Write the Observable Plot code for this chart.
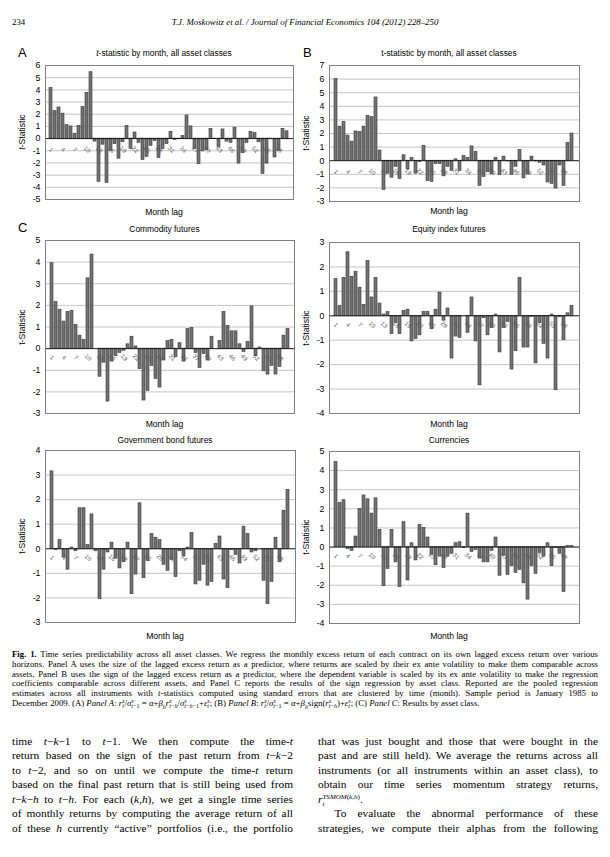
<!DOCTYPE html>
<html><head><meta charset="utf-8">
<script src="https://cdn.jsdelivr.net/npm/d3@7"></script>
<script src="https://cdn.jsdelivr.net/npm/@observablehq/plot@0.6"></script>
<style>
html,body{margin:0;padding:0;background:#fff;}
body{width:610px;height:857px;position:relative;overflow:hidden;font-family:"Liberation Sans",Arial,sans-serif;color:#000;}
.abs{position:absolute;white-space:nowrap;}
.c{transform:translate(-50%,-50%);}
.serif{font-family:"Liberation Serif","Times New Roman",serif;}
.cap{position:absolute;left:12px;width:586px;font-family:"Liberation Serif",serif;font-size:8.75px;line-height:9.7px;text-align:justify;text-align-last:justify;white-space:nowrap;}
.body{position:absolute;font-family:"Liberation Serif",serif;font-size:11.4px;line-height:14.5px;text-align:justify;text-align-last:justify;white-space:nowrap;}
.ss{display:inline-block;vertical-align:middle;line-height:0.8em;font-size:0.7em;text-align:left;}
.ss span{display:block;}
svg{overflow:visible;}
</style></head><body>
<script>
// ---- data ----
const lags = [1,2,3,4,5,6,7,8,9,10,11,12,13,14,15,16,17,18,19,20,21,22,23,24,25,26,27,28,29,30,
              31,32,33,34,35,36,37,38,39,40,41,42,43,44,45,46,47,48,49,50,51,52,53,54,55,56,57,58,59,60];
const tickLags = [1,4,7,10,13,16,19,22,25,28,31,34,37,40,43,46,49,52,55,58];

const panelA = [4.15,2.25,2.55,2.05,1.1,1.0,0.4,1.05,2.6,3.75,
                5.45,-0.25,-3.55,-0.5,-3.65,-1.0,-0.45,-1.65,-0.3,1.05,
                -0.85,0.5,-0.35,-1.75,-1.5,-0.6,-0.2,-1.6,-0.85,-0.45,
                0.55,-0.1,-0.05,0.2,1.9,1.0,-0.85,-2.1,-1.05,-0.95,
                0.8,-0.05,-0.7,0.75,-0.25,-0.35,0.9,-2.05,-1.2,-0.35,
                0.55,0.45,-0.3,-2.9,-2.05,-0.05,-1.55,-1.0,0.8,0.6];
const panelB = [6.0,2.5,2.85,1.85,1.4,2.15,2.1,2.5,3.3,3.2,
                4.65,0.75,-2.15,-0.95,-1.25,-0.45,-1.35,0.4,-0.65,0.2,
                -0.95,-0.1,1.1,-1.5,-1.55,-0.25,-0.25,-1.15,-0.45,-0.75,
                0.1,-0.75,0.35,0.2,1.05,0.65,-1.85,-1.2,-0.85,-1.0,
                0.2,-1.05,0.3,-0.05,-1.05,-0.45,0.8,-1.3,-1.0,0.3,
                -0.05,-0.15,-0.35,-1.6,-1.7,-2.05,-0.35,-1.85,1.3,2.0];
const commodity = [3.95,2.15,1.8,1.25,1.7,1.75,1.1,0.6,0.4,3.25,
                4.35,0,-1.3,-0.65,-2.45,-0.6,-0.35,-0.2,-0.1,0.2,
                0.55,0.1,-0.95,-2.4,-1.95,-0.8,-1.4,-1.8,-0.55,0.35,
                0.4,-0.4,0.25,-0.6,0.9,0.95,-0.2,-0.9,-0.25,-0.55,
                0.55,0,0.35,1.7,1.05,0.8,0.8,0.2,-0.15,0.3,
                1.95,-0.35,0.05,-1.05,-1.2,-0.8,-1.2,-0.85,0.6,0.9];
const equity = [1.5,0.4,1.55,2.6,1.6,1.8,1.15,0.45,2.25,0.75,
                1.55,0.5,0.05,0.15,-0.75,-0.3,-0.75,0.2,0.25,-1.05,
                -0.95,-0.8,0.15,0.15,-0.55,0.25,0.95,-0.2,0.3,-1.75,
                -0.85,-0.9,0,-0.7,0.75,-1.05,-2.85,-0.1,-0.8,-0.5,
                0.05,-1.5,-0.5,-0.25,-2.2,-1.45,1.55,-1.3,-1.3,-0.05,
                -1.95,-0.3,-1.15,-1.75,0.05,-3.05,-0.05,-1.0,0.1,0.4];
const govBond = [3.15,-0.05,0.35,-0.35,-0.85,0.05,-0.1,1.65,1.65,0.15,
                1.4,-0.1,-2.05,-0.85,-0.15,0.25,-0.4,-0.8,-0.55,0.25,
                -1.85,-1.05,1.85,-1.2,-0.5,0.6,0.45,0.35,-0.65,-0.9,
                -0.45,-1.15,-0.1,-0.3,0.05,0.65,-1.45,-1.3,-0.65,-1.5,
                -1.35,0.2,0.5,-1.25,-1.6,-0.05,-0.25,-0.6,0.9,0.6,
                -0.15,-0.1,0,-1.3,-2.25,-1.35,0.45,-0.55,1.55,2.4];
const currencies = [4.45,2.3,2.45,-0.1,-0.2,0.55,2.0,2.7,2.5,1.75,
                2.55,0.9,-2.05,-1.15,0.9,-0.8,-2.1,1.3,-1.75,0.2,
                -0.7,1.15,1.0,0.5,-0.4,-0.95,-0.5,-1.1,-0.5,-0.35,
                0.2,0.25,-0.05,1.75,-0.25,-0.15,-0.6,-0.8,-0.8,-0.2,
                0.5,-1.5,-0.45,-1.45,-1.0,-1.35,-1.2,-1.9,-2.75,-1.0,
                -1.4,-0.3,-0.5,0.2,-1.0,-0.05,-0.35,-2.35,0.05,0.05];

const ticksA = [-5,-4,-3,-2,-1,0,1,2,3,4,5,6];
const ticksB = [-3,-2,-1,0,1,2,3,4,5,6,7];
const ticksCom = [-3,-2,-1,0,1,2,3,4,5];
const ticksEq = [-4,-3,-2,-1,0,1,2,3];
const ticksGov = [-3,-2,-1,0,1,2,3,4];
const ticksCur = [-4,-3,-2,-1,0,1,2,3,4,5];

const titles = {
  A: "<i>t</i>-statistic by month, all asset classes",
  B: "t-statistic by month, all asset classes",
  com: "Commodity futures", eq: "Equity index futures",
  gov: "Government bond futures", cur: "Currencies"
};

// ---- helpers ----
function addDiv(html, style, cls){
  const d = document.createElement("div");
  d.className = "abs " + (cls||"");
  d.innerHTML = html;
  Object.assign(d.style, style);
  document.body.appendChild(d);
  return d;
}

function chart(values, ticks, box, labelDy){
  const ML = 32, MR = 2, MT = 2, MB = 2;
  const data = lags.map((l,i)=>({lag:l, t:values[i]}));
  const svg = Plot.plot({
    width: box.w + ML + MR, height: box.h + MT + MB,
    marginLeft: ML, marginRight: MR, marginTop: MT, marginBottom: MB,
    style: {background:"transparent", fontFamily:"Liberation Sans, Arial, sans-serif", color:"#000", overflow:"visible"},
    x: {type:"band", domain: lags, padding: 0.22, paddingOuter: 0.1, axis: null},
    y: {domain: [ticks[0], ticks[ticks.length-1]], axis: null},
    marks: [
      Plot.ruleY(ticks, {stroke:"#c4c4c4", strokeWidth:1}),
      Plot.barY(data, {x:"lag", y:"t", fill:"#747474", stroke:"#353535", strokeWidth:0.6}),
      Plot.ruleY([0], {stroke:"#111", strokeWidth:0.9}),
      Plot.text(tickLags, {x: d=>d, y: ()=>0, text: d=>String(d), rotate: 45, textAnchor:"middle",
                           dy: labelDy, fontSize: 6, fill:"#555"}),
      Plot.axisY(ticks, {tickSize:0, tickPadding:5, fontSize:8.8, tickFormat: d=>String(d), label:null}),
      Plot.frame({stroke:"#808080", strokeWidth:1})
    ]
  });
  svg.style.position = "absolute";
  svg.style.left = (box.x - ML) + "px";
  svg.style.top = (box.y - MT) + "px";
  document.body.appendChild(svg);
}

function panel(values, ticks, box, title, titleY, lagY, ylabel, labelDy){
  chart(values, ticks, box, labelDy);
  const cx = box.x + box.w/2 - 5;
  addDiv(title, {left: cx+"px", top: titleY+"px", fontSize:"8.4px"}, "c");
  addDiv("Month lag", {left: cx+"px", top: lagY+"px", fontSize:"8.6px"}, "c");
  addDiv(ylabel, {left:(box.x-23)+"px", top:(box.y+box.h/2)+"px", fontSize:"8.6px",
                  transform:"translate(-50%,-50%) rotate(-90deg)"});
}

// header
addDiv("234", {left:"12px", top:"22px", fontSize:"8.8px", transform:"translateY(-50%)"}, "serif");
addDiv("<i>T.J. Moskowitz et al. / Journal of Financial Economics 104 (2012) 228–250</i>",
       {left:"305px", top:"22px", fontSize:"8.8px"}, "c serif");

// panel letters
addDiv("A", {left:"18px", top:"52px", fontSize:"13px", transform:"translateY(-50%)"});
addDiv("B", {left:"303px", top:"52px", fontSize:"13px", transform:"translateY(-50%)"});
addDiv("C", {left:"18px", top:"227px", fontSize:"13px", transform:"translateY(-50%)"});

const yl = "<i>t</i>-Statistic", yl2 = "t-Statistic";
panel(panelA, ticksA, {x:45, y:65, w:248, h:134}, titles.A, 53, 212, yl, 11);
panel(panelB, ticksB, {x:329, y:65, w:250, h:136}, titles.B, 53, 211, yl2, 11);
panel(commodity, ticksCom, {x:45, y:240, w:249, h:173}, titles.com, 229, 424, yl2, 9);
panel(equity, ticksEq, {x:329, y:242, w:250, h:171}, titles.eq, 229, 424, yl2, 9);
panel(govBond, ticksGov, {x:45, y:450, w:250, h:172}, titles.gov, 440, 636, yl2, 9);
panel(currencies, ticksCur, {x:329, y:451, w:250, h:172}, titles.cur, 440, 636, yl2, 9);

// caption
const capLines = [
 "<b>Fig. 1.</b> Time series predictability across all asset classes. We regress the monthly excess return of each contract on its own lagged excess return over various",
 "horizons. Panel A uses the size of the lagged excess return as a predictor, where returns are scaled by their ex ante volatility to make them comparable across",
 "assets, Panel B uses the sign of the lagged excess return as a predictor, where the dependent variable is scaled by its ex ante volatility to make the regression",
 "coefficients comparable across different assets, and Panel C reports the results of the sign regression by asset class. Reported are the pooled regression",
 "estimates across all instruments with <i>t</i>-statistics computed using standard errors that are clustered by time (month). Sample period is January 1985 to",
 "December 2009. (A) <i>Panel A</i>: <i>r</i><span class='ss'><span><i>s</i></span><span><i>t</i></span></span>/<i>σ</i><span class='ss'><span><i>s</i></span><span><i>t</i>−1</span></span> = <i>α</i>+<i>β<sub style='font-size:0.7em'>h</sub>r</i><span class='ss'><span><i>s</i></span><span><i>t</i>−<i>h</i></span></span>/<i>σ</i><span class='ss'><span><i>s</i></span><span><i>t</i>−<i>h</i>−1</span></span>+<i>ε</i><span class='ss'><span><i>s</i></span><span><i>t</i></span></span>; (B) <i>Panel B</i>: <i>r</i><span class='ss'><span><i>s</i></span><span><i>t</i></span></span>/<i>σ</i><span class='ss'><span><i>s</i></span><span><i>t</i>−1</span></span> = <i>α</i>+<i>β<sub style='font-size:0.7em'>h</sub></i>sign(<i>r</i><span class='ss'><span><i>s</i></span><span><i>t</i>−<i>h</i></span></span>)+<i>ε</i><span class='ss'><span><i>s</i></span><span><i>t</i></span></span>; (C) <i>Panel C</i>: Results by asset class."
];
const capY = [655, 665, 674.5, 684, 693.5, 703.5];
capLines.forEach((l,i)=>{
  const d = document.createElement("div");
  d.className = "cap";
  d.innerHTML = l;
  d.style.top = (capY[i]-4.85) + "px";
  if (i === capLines.length-1) d.style.textAlignLast = "left";
  document.body.appendChild(d);
});

// body text
const leftLines = [
 "time &nbsp;<i>t</i>−<i>k</i>−1 &nbsp;to &nbsp;<i>t</i>−1. &nbsp;We &nbsp;then &nbsp;compute &nbsp;the &nbsp;time-<i>t</i>",
 "return based on the sign of the past return from <i>t</i>−<i>k</i>−2",
 "to <i>t</i>−2, and so on until we compute the time-<i>t</i> return",
 "based on the final past return that is still being used from",
 "<i>t</i>−<i>k</i>−<i>h</i> to <i>t</i>−<i>h</i>. For each (<i>k</i>,<i>h</i>), we get a single time series",
 "of monthly returns by computing the average return of all",
 "of these <i>h</i> currently “active” portfolios (i.e., the portfolio"
];
const rightLines = [
 "that was just bought and those that were bought in the",
 "past and are still held). We average the returns across all",
 "instruments (or all instruments within an asset class), to",
 "obtain &nbsp;our &nbsp;time &nbsp;series &nbsp;momentum &nbsp;strategy &nbsp;returns,",
 "<i>r</i><span class='ss' style='vertical-align:-0.45em;font-size:0.62em;line-height:1.05em'><span><i>TSMOM</i>(<i>k</i>,<i>h</i>)</span><span><i>t</i></span></span>.",
 "&nbsp;&nbsp;&nbsp;To &nbsp;evaluate &nbsp;the &nbsp;abnormal &nbsp;performance &nbsp;of &nbsp;these",
 "strategies, we compute their alphas from the following"
];
const bodyY = [741, 755.5, 770, 784.5, 799.5, 813.5, 828];
function bodyLines(lines, left, width){
  lines.forEach((l,i)=>{
    const d = document.createElement("div");
    d.className = "body";
    d.innerHTML = l;
    d.style.left = left+"px"; d.style.width = width+"px";
    d.style.top = (bodyY[i]-7.25)+"px";
    if (l.startsWith("<i>r</i><span")) d.style.textAlignLast = "left";
    document.body.appendChild(d);
  });
}
bodyLines(leftLines, 12, 281);
bodyLines(rightLines, 318, 280);
</script>
</body></html>
